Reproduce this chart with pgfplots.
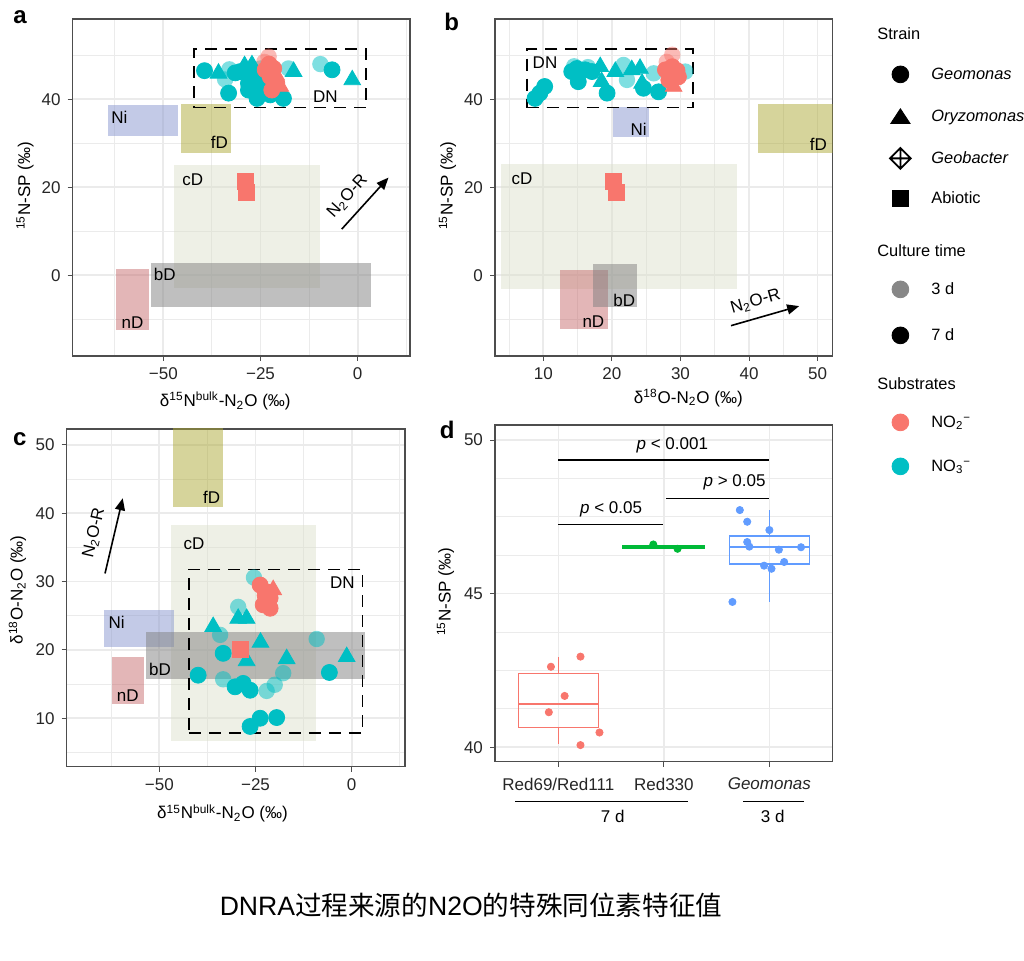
\documentclass[border=0pt]{standalone}
\usepackage{fontspec}
\setmainfont{Liberation Sans}
\newfontfamily\cjk{Noto Sans CJK SC}
\usepackage{pgfplots}
\pgfplotsset{compat=1.18}
\usetikzlibrary{arrows.meta}

\definecolor{tealc}{HTML}{00BFC4}
\definecolor{redc}{HTML}{F8766D}
\definecolor{greenc}{HTML}{00BA38}
\definecolor{bluec}{HTML}{619CFF}
\definecolor{niC}{HTML}{8896CF}
\definecolor{fdC}{HTML}{ADA937}
\definecolor{cdC}{HTML}{DDE1CD}
\definecolor{ndC}{HTML}{C76D6F}
\definecolor{bdC}{HTML}{808080}
\definecolor{gridc}{HTML}{EBEBEB}
\definecolor{framec}{HTML}{4D4D4D}

\newcommand{\fs}{\fontsize{8.5pt}{10pt}\selectfont}
\newcommand{\fl}{\fontsize{8.2pt}{10pt}\selectfont}
\newcommand{\st}{\rule[-2.2pt]{0pt}{8.4pt}}
\newcommand{\ttl}[1]{\makebox[10pt][l]{\hspace*{-27pt}#1\st}}

\tikzset{lab/.style={font=\fs, inner sep=0pt}}
\pgfplotsset{
  panel/.style={scale only axis, anchor=south west, clip=true,
    axis line style={framec, line width=0.6pt},
    tick align=outside, tick pos=left, major tick length=2.5pt, minor tick length=0pt,
    tick style={framec, line width=0.5pt},
    xmajorgrids, ymajorgrids, xminorgrids, yminorgrids,
    major grid style={gridc, line width=0.8pt},
    minor grid style={gridc, line width=0.45pt},
    ticklabel style={font=\fs, text=black!85}},
  rect/.style={fill=#1, draw=none, fill opacity=0.5, forget plot},
  pt7/.style={only marks, mark=*, mark size=4.0pt, forget plot, color=#1},
  pt3/.style={only marks, mark=*, mark size=4.1pt, forget plot, color=#1,
    mark options={fill opacity=0.5, draw opacity=0}},
  tr7/.style={only marks, mark=triangle*, mark size=4.8pt, forget plot, color=#1},
  sq7/.style={only marks, mark=square*, mark size=4.0pt, forget plot, color=#1},
  dnbox/.style={black, line width=0.8pt, dash pattern=on 6pt off 4pt, forget plot},
  arr/.style={black, line width=0.8pt, -{Triangle[length=6pt,width=5pt]}, forget plot},
  jit/.style={only marks, mark=*, mark size=1.8pt, forget plot, color=#1},
  bx/.style={#1, line width=0.65pt, forget plot},
}
\newcommand{\myrect}[5]{\addplot[rect=#1] coordinates {(#2,#4) (#3,#4) (#3,#5) (#2,#5)} -- cycle;}
\newcommand{\keyimg}[3]{\addlegendimage{legend image code/.code={\path[draw=none, fill=none] (0,-#2) rectangle (16pt,#1); #3}}}

\begin{document}
\begin{tikzpicture}
\useasboundingbox (0,0) rectangle (512pt,480.5pt);

% ---------- a ----------
\begin{axis}[panel, at={(36.35pt,302.5pt)}, width=168.65pt, height=168.5pt,
  xmin=-73.3, xmax=13.45, ymin=-18.34, ymax=58.25,
  xtick={-50,-25,0}, xticklabels={−50,−25,0}, minor xtick={-62.5,-37.5,-12.5,12.5},
  ytick={0,20,40}, yticklabels={0,20,40}, minor ytick={-10,10,30,50}]
\myrect{cdC}{-47.2}{-9.8}{-3.0}{25.1}
\myrect{niC}{-64.2}{-46.1}{31.7}{38.7}
\myrect{fdC}{-45.5}{-32.6}{27.7}{38.9}
\myrect{ndC}{-62.2}{-53.7}{-12.4}{1.4}
\addplot[pt3=tealc] coordinates {(-34.1,44.5) (-33.0,46.8) (-25.0,47.0) (-17.8,47.0) (-9.6,48.0)};
\addplot[pt3=redc] coordinates {(-24.0,48.5) (-22.9,49.7)};
\addplot[pt7=tealc] coordinates {(-39.4,46.5) (-33.2,41.4) (-31.5,46.0) (-30.2,46.3) (-28.1,43.6) (-28.1,42.1) (-26.5,45.5) (-25.9,40.2) (-24.2,42.9) (-22.5,41.0) (-19.1,40.2) (-6.6,46.7)};
\addplot[tr7=tealc] coordinates {(-35.8,45.9) (-29.1,47.6) (-27.2,47.8) (-16.5,46.3) (-1.4,44.4)};
\addplot[pt7=redc] coordinates {(-23.8,46.7) (-22.8,48.0) (-21.6,47.0) (-22.5,45.1) (-20.8,43.6) (-22.1,42.1)};
\addplot[tr7=redc] coordinates {(-21.0,45.5) (-19.9,42.9)};
\addplot[sq7=redc] coordinates {(-29.0,21.4) (-28.6,18.8)};
\myrect{bdC}{-53.2}{3.3}{-7.1}{2.7}
\addplot[dnbox] coordinates {(-42.1,38.1) (2.2,38.1) (2.2,51.4) (-42.1,51.4)} -- cycle;
\addplot[arr] coordinates {(-4.1,10.5) (7.9,22.2)};
\node[lab] at (axis cs:-61.3,35.9) {Ni};
\node[lab] at (axis cs:-35.6,30.1) {fD};
\node[lab] at (axis cs:-42.4,21.8) {cD};
\node[lab] at (axis cs:-49.6,0.1) {bD};
\node[lab] at (axis cs:-57.9,-10.8) {nD};
\node[lab] at (axis cs:-8.3,40.5) {DN};
\node[lab, rotate=48] at (axis cs:-2.6,17.9) {N\textsubscript{2}O-R};
\end{axis}

% ---------- b ----------
\begin{axis}[panel, at={(247.5pt,302.5pt)}, width=168.85pt, height=168.5pt,
  xmin=2.96, xmax=52.19, ymin=-18.34, ymax=58.25,
  xtick={10,20,30,40,50}, xticklabels={10,20,30,40,50}, minor xtick={5,15,25,35,45},
  ytick={0,20,40}, yticklabels={0,20,40}, minor ytick={-10,10,30,50},
  legend style={at={(1.1519,0.9941)}, anchor=north west, draw=none, fill=none,
    inner sep=0pt, row sep=0pt, column sep=7.5pt, nodes={inner sep=0pt, font=\fl}},
  legend cell align=left]
\myrect{cdC}{3.9}{38.2}{-3.05}{25.2}
\myrect{niC}{20.2}{25.4}{31.4}{38.2}
\myrect{fdC}{41.3}{60}{27.7}{38.9}
\myrect{ndC}{12.5}{19.4}{-12.2}{1.2}
\addplot[pt3=tealc] coordinates {(14.5,47.5) (16.5,47.3) (21.7,47.8) (22.2,44.4) (26.1,45.9) (30.7,46.3)};
\addplot[pt3=redc] coordinates {(28.0,48.5) (28.8,50.1)};
\addplot[pt7=tealc] coordinates {(8.8,40.2) (9.5,41.4) (10.2,42.9) (14.15,46.3) (14.9,47.0) (15.1,44.0) (16.1,46.7) (17.1,46.3) (19.3,41.4) (24.6,42.5) (26.8,41.7)};
\addplot[tr7=tealc] coordinates {(18.3,47.4) (18.5,44.0) (20.5,46.3) (22.9,46.7) (24.1,47.0) (24.4,43.6)};
\addplot[pt7=redc] coordinates {(27.8,46.7) (28.8,47.4) (29.5,46.5) (29.7,45.1) (28.3,44.4)};
\addplot[tr7=redc] coordinates {(28.5,45.5) (29.0,42.9)};
\addplot[sq7=redc] coordinates {(20.2,21.4) (20.6,18.8)};
\myrect{bdC}{17.2}{23.6}{-7.3}{2.6}
\addplot[dnbox] coordinates {(7.6,38.1) (31.8,38.1) (31.8,51.4) (7.6,51.4)} -- cycle;
\addplot[arr] coordinates {(37.36,-11.45) (47.3,-7.0)};
\node[lab] at (axis cs:10.25,48.4) {DN};
\node[lab] at (axis cs:23.9,33.25) {Ni};
\node[lab] at (axis cs:50.1,29.8) {fD};
\node[lab] at (axis cs:6.9,21.9) {cD};
\node[lab] at (axis cs:21.8,-5.6) {bD};
\node[lab] at (axis cs:17.3,-10.5) {nD};
\node[lab, rotate=16] at (axis cs:40.95,-6.0) {N\textsubscript{2}O-R};
% legend
\keyimg{6.5pt}{10pt}{}
\addlegendentry{\ttl{Strain}}
\keyimg{10pt}{10.5pt}{\fill[black] (8pt,0) circle (4.2pt);}
\addlegendentry{\textit{Geomonas}\st}
\keyimg{10.5pt}{10.5pt}{\fill[black] (8pt,3.8pt) -- (3.15pt,-3.6pt) -- (12.85pt,-3.6pt) -- cycle;}
\addlegendentry{\textit{Oryzomonas}\st}
\keyimg{10.5pt}{10pt}{\draw[black, line width=0.9pt] (2.8pt,0) -- (8pt,5.2pt) -- (13.2pt,0) -- (8pt,-5.2pt) -- cycle (8pt,5.2pt) -- (8pt,-5.2pt) (2.8pt,0) -- (13.2pt,0);}
\addlegendentry{\textit{Geobacter}\st}
\keyimg{10pt}{13.25pt}{\fill[black] (4pt,-4pt) rectangle (12pt,4pt);}
\addlegendentry{Abiotic\st}
\keyimg{13.25pt}{9.5pt}{}
\addlegendentry{\ttl{Culture time}}
\keyimg{9.5pt}{11.5pt}{\fill[black!47] (8pt,0) circle (4.2pt);}
\addlegendentry{3 d\st}
\keyimg{11.5pt}{12.25pt}{\fill[black] (8pt,0) circle (4.2pt);}
\addlegendentry{7 d\st}
\keyimg{12.25pt}{9.5pt}{}
\addlegendentry{\ttl{Substrates}}
\keyimg{9.5pt}{11pt}{\fill[redc] (8pt,0) circle (4.2pt);}
\addlegendentry{NO\textsubscript{2}\textsuperscript{−}\st}
\keyimg{11pt}{6pt}{\fill[tealc] (8pt,0) circle (4.2pt);}
\addlegendentry{NO\textsubscript{3}\textsuperscript{−}\st}
\end{axis}

% ---------- c ----------
\begin{axis}[panel, at={(33.35pt,97.15pt)}, width=169.15pt, height=168.85pt,
  xmin=-74.06, xmax=13.85, ymin=2.91, ymax=52.34,
  xtick={-50,-25,0}, xticklabels={−50,−25,0}, minor xtick={-62.5,-37.5,-12.5,12.5},
  ytick={10,20,30,40,50}, yticklabels={10,20,30,40,50}, minor ytick={5,15,25,35,45}]
\myrect{cdC}{-47.0}{-9.4}{6.7}{38.3}
\myrect{niC}{-64.3}{-46.2}{20.5}{25.8}
\myrect{fdC}{-46.4}{-33.4}{40.9}{60}
\myrect{ndC}{-62.3}{-54.0}{12.1}{19.0}
\addplot[pt3=tealc] coordinates {(-25.4,30.6) (-29.5,26.3) (-34.2,22.2) (-9.1,21.6) (-33.4,15.7) (-17.8,16.6) (-22.1,14.0) (-20.0,14.9)};
\addplot[pt7=tealc] coordinates {(-33.4,19.5) (-5.8,16.7) (-39.9,16.3) (-30.3,14.6) (-28.2,15.1) (-26.4,14.1) (-26.4,8.8) (-23.8,10.0) (-19.5,10.1)};
\addplot[tr7=tealc] coordinates {(-29.5,24.6) (-27.3,24.6) (-36.0,23.4) (-23.7,21.1) (-27.3,18.4) (-16.9,18.7) (-1.3,19.0)};
\addplot[pt7=redc] coordinates {(-23.8,29.5) (-22.5,28.0) (-22.1,28.5) (-21.2,27.6) (-23.0,26.6) (-21.2,26.1)};
\addplot[tr7=redc] coordinates {(-20.4,28.8)};
\addplot[sq7=redc] coordinates {(-29.0,20.1)};
\myrect{bdC}{-53.5}{3.4}{15.8}{22.6}
\addplot[dnbox] coordinates {(-42.3,7.8) (2.8,7.8) (2.8,31.8) (-42.3,31.8)} -- cycle;
\addplot[arr] coordinates {(-64.1,31.2) (-59.5,42.2)};
\node[lab] at (axis cs:-36.4,42.4) {fD};
\node[lab] at (axis cs:-41.0,35.6) {cD};
\node[lab] at (axis cs:-61.1,24.0) {Ni};
\node[lab] at (axis cs:-49.8,17.2) {bD};
\node[lab] at (axis cs:-58.2,13.3) {nD};
\node[lab] at (axis cs:-2.4,29.9) {DN};
\node[lab, rotate=77] at (axis cs:-66.9,37.1) {N\textsubscript{2}O-R};
\end{axis}

% ---------- d ----------
\begin{axis}[panel, at={(247.5pt,99.65pt)}, width=168.85pt, height=168.35pt,
  xmin=0.4, xmax=3.6, ymin=39.53, ymax=50.49,
  xtick={1,2,3}, xticklabels={Red69/Red111,Red330,\textit{Geomonas}},
  xticklabel style={yshift=-2pt},
  ytick={40,45,50}, yticklabels={40,45,50}, minor ytick={41.25,42.5,43.75,46.25,47.5,48.75}]
% Red69/Red111 box
\addplot[bx=redc] coordinates {(0.62,40.65) (1.38,40.65) (1.38,42.39) (0.62,42.39)} -- cycle;
\addplot[bx=redc] coordinates {(0.62,41.41) (1.38,41.41)};
\addplot[bx=redc] coordinates {(1,42.39) (1,42.93)};
\addplot[bx=redc] coordinates {(1,40.65) (1,40.10)};
% Red330 box
\addplot[greenc, line width=1.3pt, forget plot] coordinates {(1.62,46.505) (2.38,46.505) (2.38,46.555) (1.62,46.555)} -- cycle;
% Geomonas box
\addplot[bx=bluec] coordinates {(2.62,45.96) (3.38,45.96) (3.38,46.88) (2.62,46.88)} -- cycle;
\addplot[bx=bluec] coordinates {(2.62,46.52) (3.38,46.52)};
\addplot[bx=bluec] coordinates {(3,46.88) (3,47.72)};
\addplot[bx=bluec] coordinates {(3,45.96) (3,44.74)};
\addplot[jit=redc] coordinates {(0.93,42.62) (1.21,42.95) (1.06,41.67) (0.91,41.14) (1.39,40.48) (1.21,40.07)};
\addplot[jit=greenc] coordinates {(1.90,46.60) (2.13,46.46)};
\addplot[jit=bluec] coordinates {(2.72,47.72) (2.79,47.34) (3.00,47.07) (2.79,46.68) (2.81,46.53) (3.09,46.43) (3.30,46.51) (3.14,46.03) (2.95,45.91) (3.02,45.81) (2.65,44.73)};
\addplot[black, line width=0.6pt, forget plot] coordinates {(1,49.35) (3,49.35)};
\addplot[black, line width=0.6pt, forget plot] coordinates {(2.02,48.10) (3,48.10)};
\addplot[black, line width=0.6pt, forget plot] coordinates {(1,47.26) (1.99,47.26)};
\node[lab] at (axis cs:2.08,49.84) {\textit{p} < 0.001};
\node[lab] at (axis cs:2.67,48.61) {\textit{p} > 0.05};
\node[lab] at (axis cs:1.50,47.75) {\textit{p} < 0.05};
\end{axis}

% ---------- labels in pixel coordinates ----------
\begin{scope}[shift={(0pt,480.5pt)}, x=0.5pt, y=-0.5pt]
\tikzset{pl/.style={font=\bfseries\fontsize{12pt}{14pt}\selectfont, inner sep=0pt}}
\node[pl] at (20,16.7) {a};
\node[pl] at (451.7,22) {b};
\node[pl] at (19.7,439.2) {c};
\node[pl] at (447.3,430) {d};
\node[lab] at (225.3,401) {δ\textsuperscript{15}N\textsuperscript{bulk}-N\textsubscript{2}O (‰)};
\node[lab, rotate=90] at (25,186) {\textsuperscript{15}N-SP (‰)};
\node[lab] at (688.3,398) {δ\textsuperscript{18}O-N\textsubscript{2}O (‰)};
\node[lab, rotate=90] at (447.5,186) {\textsuperscript{15}N-SP (‰)};
\node[lab] at (222.5,813.3) {δ\textsuperscript{15}N\textsuperscript{bulk}-N\textsubscript{2}O (‰)};
\node[lab, rotate=90] at (17.5,590) {δ\textsuperscript{18}O-N\textsubscript{2}O (‰)};
\node[lab, rotate=90] at (445.5,592) {\textsuperscript{15}N-SP (‰)};
\draw[black, line width=0.6pt] (515,801.5) -- (688.3,801.5);
\draw[black, line width=0.6pt] (743.3,801.5) -- (804,801.5);
\node[lab] at (612.7,816) {7 d};
\node[lab] at (772.7,816) {3 d};
\node[inner sep=0pt, font=\fontsize{13.3pt}{15pt}\selectfont] at (471,905) {DNRA{\cjk 过程来源的}N2O{\cjk 的特殊同位素特征值}};
\end{scope}
\end{tikzpicture}
\end{document}
